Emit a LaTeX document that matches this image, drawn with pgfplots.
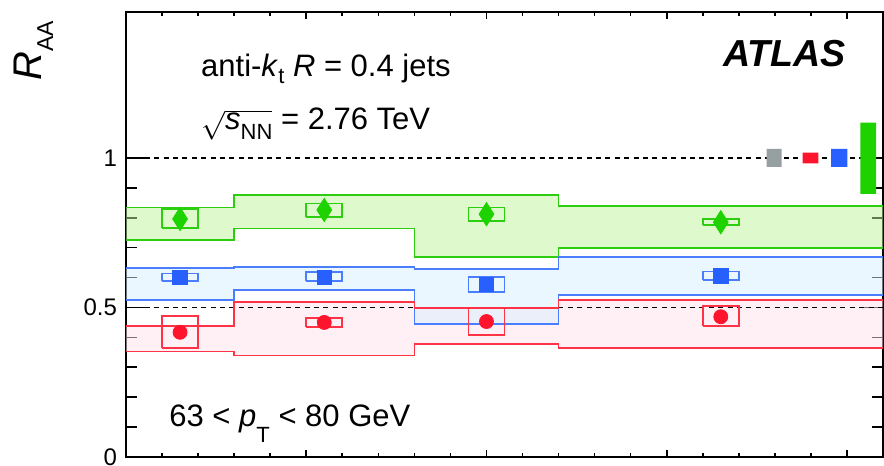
\documentclass[border=0pt]{standalone}
\usepackage{pgfplots}
\pgfplotsset{compat=1.18}
\usepackage{pgfplotstable}
\usepgfplotslibrary{fillbetween}
\usepackage{fontspec}
\setmainfont{Liberation Sans}

\definecolor{gline}{RGB}{45,205,15}
\definecolor{gmark}{RGB}{30,210,0}
\definecolor{gfill}{RGB}{189,245,155}
\definecolor{bline}{RGB}{75,125,255}
\definecolor{bmark}{RGB}{40,95,255}
\definecolor{bfill}{RGB}{213,239,255}
\definecolor{rline}{RGB}{255,50,70}
\definecolor{rmark}{RGB}{255,20,45}
\definecolor{rfill}{RGB}{255,225,235}
\definecolor{normgray}{RGB}{150,160,160}

% lowered, smaller subscript used in the labels
\newcommand{\sub}[2][4pt]{\raisebox{-#1}{\fontsize{11}{13}\selectfont #2}}

% R_AA per rapidity bin: value, systematic box low/high
\pgfplotstableread{
x    y     slo   shi
0.15 0.796 0.765 0.829
0.55 0.826 0.802 0.848
1.00 0.812 0.790 0.834
1.65 0.785 0.775 0.796
}\greenpts
\pgfplotstableread{
x    y     slo   shi
0.15 0.601 0.588 0.614
0.55 0.601 0.588 0.618
1.00 0.578 0.552 0.603
1.65 0.606 0.593 0.620
}\bluepts
\pgfplotstableread{
x    y     slo   shi
0.15 0.417 0.365 0.472
0.55 0.450 0.435 0.464
1.00 0.453 0.407 0.497
1.65 0.469 0.439 0.504
}\redpts

% correlated uncertainty bands, one step per bin (left edges)
\pgfplotstableread{
x   lo    hi
0.0 0.726 0.834
0.3 0.764 0.876
0.8 0.668 0.876
1.2 0.700 0.840
2.1 0.700 0.840
}\greenband
\pgfplotstableread{
x   lo    hi
0.0 0.526 0.631
0.3 0.558 0.636
0.8 0.445 0.628
1.2 0.541 0.668
2.1 0.541 0.668
}\blueband
\pgfplotstableread{
x   lo    hi
0.0 0.353 0.439
0.3 0.339 0.518
0.8 0.379 0.498
1.2 0.364 0.524
2.1 0.364 0.524
}\redband

\begin{document}
\begin{tikzpicture}
\begin{axis}[
  scale only axis,
  width=378.5pt, height=222.5pt,
  xmin=0, xmax=2.1, ymin=0, ymax=1.488,
  xtick={0,0.5,1,1.5,2}, minor x tick num=4,
  ytick={0,0.5,1}, minor y tick num=4,
  yticklabels={0,0.5,1},
  xticklabels={},
  tick align=inside,
  axis line style={line width=0.9pt},
  every tick/.style={black, line width=0.8pt},
  xtick style={/pgfplots/major tick length=3.5pt, /pgfplots/minor tick length=1.8pt},
  ytick style={/pgfplots/major tick length=10pt, /pgfplots/minor tick length=5.3pt},
  /pgf/number format/assume math mode=true,
  yticklabel style={font=\fontsize{12}{14}\selectfont, xshift=-1pt},
  clip=false,
]

% bands: boundaries first, fills, then outlines
\addplot[const plot, draw=none, name path=gt] table[x=x,y=hi]{\greenband};
\addplot[const plot, draw=none, name path=gb] table[x=x,y=lo]{\greenband};
\addplot[const plot, draw=none, name path=bt] table[x=x,y=hi]{\blueband};
\addplot[const plot, draw=none, name path=bb] table[x=x,y=lo]{\blueband};
\addplot[const plot, draw=none, name path=rt] table[x=x,y=hi]{\redband};
\addplot[const plot, draw=none, name path=rb] table[x=x,y=lo]{\redband};
\addplot[fill=gfill, fill opacity=0.5] fill between[of=gt and gb];
\addplot[fill=rfill, fill opacity=0.5] fill between[of=rt and rb];
\addplot[fill=bfill, fill opacity=0.5] fill between[of=bt and bb];

% reference lines
\addplot[black, line width=0.65pt, dash pattern=on 2.5pt off 2.2pt] coordinates {(0,1) (2.1,1)};
\addplot[black, line width=0.65pt, dash pattern=on 2.5pt off 2.2pt] coordinates {(0,0.5) (2.1,0.5)};

\addplot[const plot, gline, line width=0.85pt] table[x=x,y=hi]{\greenband};
\addplot[const plot, gline, line width=0.85pt] table[x=x,y=lo]{\greenband};
\addplot[const plot, bline, line width=0.85pt] table[x=x,y=hi]{\blueband};
\addplot[const plot, bline, line width=0.85pt] table[x=x,y=lo]{\blueband};
\addplot[const plot, rline, line width=0.85pt] table[x=x,y=hi]{\redband};
\addplot[const plot, rline, line width=0.85pt] table[x=x,y=lo]{\redband};

% systematic boxes
\addplot[gline, line width=0.85pt] coordinates {(0.10,0.765)(0.20,0.765)(0.20,0.829)(0.10,0.829)(0.10,0.765)};
\addplot[gline, line width=0.85pt] coordinates {(0.50,0.802)(0.60,0.802)(0.60,0.848)(0.50,0.848)(0.50,0.802)};
\addplot[gline, line width=0.85pt] coordinates {(0.95,0.790)(1.05,0.790)(1.05,0.834)(0.95,0.834)(0.95,0.790)};
\addplot[gline, line width=0.85pt] coordinates {(1.60,0.775)(1.70,0.775)(1.70,0.796)(1.60,0.796)(1.60,0.775)};
\addplot[bline, line width=0.85pt] coordinates {(0.10,0.588)(0.20,0.588)(0.20,0.614)(0.10,0.614)(0.10,0.588)};
\addplot[bline, line width=0.85pt] coordinates {(0.50,0.588)(0.60,0.588)(0.60,0.618)(0.50,0.618)(0.50,0.588)};
\addplot[bline, line width=0.85pt] coordinates {(0.95,0.552)(1.05,0.552)(1.05,0.603)(0.95,0.603)(0.95,0.552)};
\addplot[bline, line width=0.85pt] coordinates {(1.60,0.593)(1.70,0.593)(1.70,0.620)(1.60,0.620)(1.60,0.593)};
\addplot[rline, line width=0.85pt] coordinates {(0.10,0.365)(0.20,0.365)(0.20,0.472)(0.10,0.472)(0.10,0.365)};
\addplot[rline, line width=0.85pt] coordinates {(0.50,0.435)(0.60,0.435)(0.60,0.464)(0.50,0.464)(0.50,0.435)};
\addplot[rline, line width=0.85pt] coordinates {(0.95,0.407)(1.05,0.407)(1.05,0.497)(0.95,0.497)(0.95,0.407)};
\addplot[rline, line width=0.85pt] coordinates {(1.60,0.439)(1.70,0.439)(1.70,0.504)(1.60,0.504)(1.60,0.439)};

% normalisation uncertainties at unity
\addplot[fill=normgray, draw=none] coordinates {(1.777,0.970)(1.819,0.970)(1.819,1.030)(1.777,1.030)(1.777,0.970)};
\addplot[fill=rmark, draw=none] coordinates {(1.877,0.982)(1.921,0.982)(1.921,1.018)(1.877,1.018)(1.877,0.982)};
\addplot[fill=bmark, draw=none] coordinates {(1.956,0.970)(2.001,0.970)(2.001,1.030)(1.956,1.030)(1.956,0.970)};
\addplot[fill=gmark, draw=none] coordinates {(2.037,0.880)(2.081,0.880)(2.081,1.118)(2.037,1.118)(2.037,0.880)};

% data points
\addplot[only marks, mark=diamond*, mark size=5.8pt, mark options={xscale=0.85, fill=gmark, draw=gmark}] table[x=x,y=y]{\greenpts};
\addplot[only marks, mark=square*, mark size=3.6pt, mark options={fill=bmark, draw=bmark}] table[x=x,y=y]{\bluepts};
\addplot[only marks, mark=*, mark size=3.5pt, mark options={fill=rmark, draw=rmark}] table[x=x,y=y]{\redpts};

% labels
\node[rotate=90, anchor=base east, font=\fontsize{20}{24}\selectfont]
  at (axis description cs:-0.112,0.995) {\textit{R}\raisebox{-6pt}{\fontsize{11.5}{13}\selectfont AA}};
\node[anchor=base west, font=\fontsize{15.5}{18}\selectfont]
  at (axis description cs:0.090,0.854) {anti-\textit{k}\sub[3.5pt]{t} \textit{R} = 0.4 jets};
\node[anchor=base west, font=\fontsize{15.5}{18}\selectfont]
  at (axis description cs:0.090,0.735) {$\sqrt{\mbox{\textit{s}\sub[5pt]{NN}}}$ = 2.76 TeV};
\node[anchor=base east, font=\fontsize{18.8}{22}\selectfont\bfseries\itshape]
  at (axis description cs:0.960,0.877) {ATLAS};
\node[anchor=base west, font=\fontsize{15.5}{18}\selectfont]
  at (axis description cs:0.048,0.069) {63 < \textit{p}\sub[8pt]{T} < 80 GeV};
\end{axis}
\pgfresetboundingbox
\useasboundingbox (-63pt,-4.5pt) rectangle (379pt,228.5pt);
\end{tikzpicture}
\end{document}
